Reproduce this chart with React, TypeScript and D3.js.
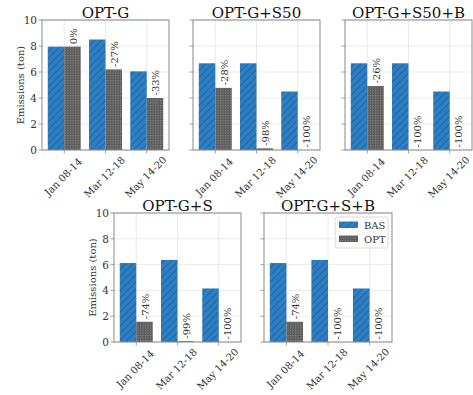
import React from 'react';
import * as d3 from 'd3';

const width = 473;
const height = 395;

// data
const categories = ['Jan 08-14', 'Mar 12-18', 'May 14-20'];
const titles = ['OPT-G', 'OPT-G+S50', 'OPT-G+S50+B', 'OPT-G+S', 'OPT-G+S+B'];
const basValues = [
    [7.95, 8.5, 6.05],
    [6.67, 6.67, 4.5],
    [6.67, 6.67, 4.5],
    [6.12, 6.36, 4.15],
    [6.12, 6.36, 4.15],
];
const optValues = [
    [7.95, 6.2, 4.0],
    [4.78, 0.13, 0],
    [4.92, 0, 0],
    [1.57, 0.06, 0],
    [1.57, 0, 0],
];
const pctLabels = [
    ['0%', '-27%', '-33%'],
    ['-28%', '-98%', '-100%'],
    ['-26%', '-100%', '-100%'],
    ['-74%', '-99%', '-100%'],
    ['-74%', '-100%', '-100%'],
];
const yTicks = [0, 2, 4, 6, 8, 10];
const seriesNames = ['BAS', 'OPT'];

// panel boxes: [left, top, width, height]
const panels = [
    [42, 20, 127, 130],
    [193, 20, 127, 130],
    [345, 20, 127, 130],
    [114, 213, 127, 129],
    [264, 213, 128, 129],
];

const font = '"DejaVu Serif", serif';
const textColor = '#333';
const spineColor = '#8a8a8a';
const gridColor = '#e6e6e6';

function Panel({ idx }: { idx: number }) {
    const [left, top, w, h] = panels[idx];
    const x = d3.scaleLinear().domain([-0.54, 2.54]).range([left, left + w]);
    const y = d3.scaleLinear().domain([0, 10]).range([top + h, top]);
    const barW = x(0.4) - x(0);
    const showYLabels = idx === 0 || idx === 3;

    return (
        <g>
            {/* grid */}
            {yTicks.map(t => (
                <line key={'gy' + t} x1={left} x2={left + w} y1={y(t)} y2={y(t)}
                    stroke={gridColor} strokeWidth={0.8} />
            ))}
            {categories.map((c, i) => (
                <line key={'gx' + c} x1={x(i)} x2={x(i)} y1={top} y2={top + h}
                    stroke={gridColor} strokeWidth={0.8} />
            ))}

            {/* bars */}
            {categories.map((c, i) => (
                <g key={'b' + c}>
                    <rect x={x(i - 0.4)} y={y(basValues[idx][i])} width={barW}
                        height={y(0) - y(basValues[idx][i])} fill="url(#hatchBlue)" />
                    {optValues[idx][i] > 0 && (
                        <rect x={x(i)} y={y(optValues[idx][i])} width={barW}
                            height={Math.max(0.8, y(0) - y(optValues[idx][i]))} fill="url(#hatchGray)" />
                    )}
                    <text transform={`translate(${x(i + 0.2) + 1},${y(optValues[idx][i]) - 2.5}) rotate(-90)`}
                        fontFamily={font} fontSize={10} fill={textColor}
                        dominantBaseline="central" textAnchor="start">
                        {pctLabels[idx][i]}
                    </text>
                </g>
            ))}

            {/* frame */}
            <rect x={left} y={top} width={w} height={h} fill="none" stroke={spineColor} strokeWidth={1} />

            {/* y ticks */}
            {yTicks.map(t => (
                <g key={'yt' + t}>
                    <line x1={left - 3.5} x2={left} y1={y(t)} y2={y(t)} stroke={spineColor} strokeWidth={0.8} />
                    {showYLabels && (
                        <text x={left - 5} y={y(t)} textAnchor="end" dominantBaseline="central"
                            fontFamily={font} fontSize={10.5} fill={textColor}>{t}</text>
                    )}
                </g>
            ))}

            {/* x ticks */}
            {categories.map((c, i) => (
                <g key={'xt' + c}>
                    <line x1={x(i)} x2={x(i)} y1={top + h} y2={top + h + 3.5} stroke={spineColor} strokeWidth={0.8} />
                    <text transform={`translate(${x(i) - 1},${top + h + 27}) rotate(-45)`}
                        textAnchor="middle" dominantBaseline="central"
                        fontFamily={font} fontSize={10} fill={textColor}>{c}</text>
                </g>
            ))}

            {showYLabels && (
                <text transform={`translate(${left - 22},${top + h / 2}) rotate(-90)`}
                    textAnchor="middle" dominantBaseline="central"
                    fontFamily={font} fontSize={10} fill={textColor}>Emissions (ton)</text>
            )}

            <text x={left + w / 2} y={top - 2.5} textAnchor="middle"
                fontFamily={font} fontSize={15} fill="#111">{titles[idx]}</text>
        </g>
    );
}

function Legend() {
    const [left, top, w] = panels[4];
    const bx = left + w - 57;
    const by = top + 4;
    return (
        <g>
            <rect x={bx} y={by} width={53} height={31} rx={2} fill="white" fillOpacity={0.85}
                stroke="#d0d0d0" strokeWidth={0.8} />
            {seriesNames.map((s, i) => (
                <g key={s}>
                    <rect x={bx + 4} y={by + 4.5 + i * 14} width={19} height={6.5}
                        fill={i === 0 ? 'url(#hatchBlue)' : 'url(#hatchGray)'} />
                    <text x={bx + 29} y={by + 8 + i * 14} dominantBaseline="central"
                        fontFamily={font} fontSize={10} fill={textColor}>{s}</text>
                </g>
            ))}
        </g>
    );
}

export default function App() {
    return (
        <svg width={width} height={height} style={{ position: 'absolute', left: 0, top: 0, background: 'white' }}>
            <defs>
                <pattern id="hatchBlue" patternUnits="userSpaceOnUse" width={5} height={5}
                    patternTransform="rotate(45)">
                    <rect width={5} height={5} fill="#2e7ec3" />
                    <line x1={0} y1={0} x2={0} y2={5} stroke="#1d5188" strokeWidth={1.1} />
                </pattern>
                <pattern id="hatchGray" patternUnits="userSpaceOnUse" width={2.5} height={2.5}>
                    <rect width={2.5} height={2.5} fill="#5c5c5c" />
                    <rect width={1.1} height={1.1} fill="#8c8c8c" />
                </pattern>
            </defs>
            {panels.map((p, i) => <Panel key={i} idx={i} />)}
            <Legend />
        </svg>
    );
}
